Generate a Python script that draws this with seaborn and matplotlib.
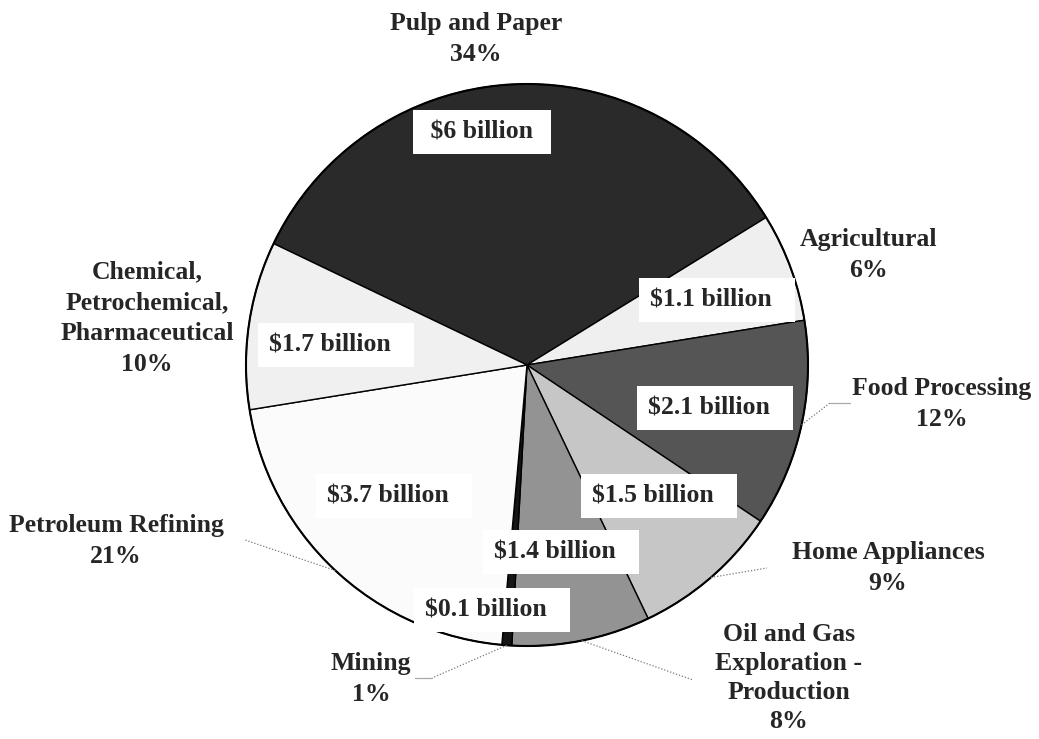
import numpy as np
import matplotlib.pyplot as plt
import seaborn as sns

sns.set_style('white')
plt.rcParams['font.family'] = ['Liberation Serif', 'DejaVu Serif']
plt.rcParams['font.weight'] = 'bold'

# data
sectors = ['Pulp and Paper', 'Agricultural', 'Food Processing', 'Home Appliances',
           'Oil and Gas\nExploration -\nProduction', 'Mining', 'Petroleum Refining',
           'Chemical,\nPetrochemical,\nPharmaceutical']
billions = [6, 1.1, 2.1, 1.5, 1.4, 0.1, 3.7, 1.7]
value_labels = ['$6 billion', '$1.1 billion', '$2.1 billion', '$1.5 billion',
                '$1.4 billion', '$0.1 billion', '$3.7 billion', '$1.7 billion']
colors = ['#2a2a2a', '#efefef', '#555555', '#c6c6c6', '#939393', '#151515', '#fbfbfb', '#f0f0f0']

W, H = 1039, 739
cx, cy, R = 527, 365, 281


def px(x, y):
    # pixel position -> data units of the pie (radius 1)
    return (x - cx) / R, (cy - y) / R


# label placement (pixel centers)
outer_pos = [(476, 39), (868, 255), (942, 404), (888, 568), (789, 678), (371, 679), (116, 541), (147, 318)]
outer_spacing = [1.45, 1.45, 1.4, 1.4, 1.33, 1.4, 1.4, 1.45]
inner_pos = [(482, 132), (717, 300), (715, 408), (659, 496), (561, 552), (492, 610), (394, 496), (336, 345)]
# leader lines: slice index -> (end point, optional tail point)
leaders = {2: ((830, 403), (850, 403)), 3: ((767, 568), None), 4: ((693, 680), None),
           5: ((432, 678), (415, 678)), 6: ((245, 540), None)}

fig = plt.figure(figsize=(W / 100, H / 100), dpi=100)
ax = fig.add_axes([0, 0, 1, 1])

total = sum(billions)
pct = [round(v / total * 100) for v in billions]

wedges, _ = ax.pie(billions, colors=colors, startangle=154.4, counterclock=False,
                   radius=1, wedgeprops=dict(edgecolor='black', linewidth=1.0))
outline = plt.Circle((0, 0), 1, fill=False, edgecolor='black', linewidth=1.5)
ax.add_patch(outline)

for i, w in enumerate(wedges):
    x, y = px(*outer_pos[i])
    ax.text(x, y, f'{sectors[i]}\n{pct[i]}%', ha='center', va='center', fontsize=18.5,
            fontweight='bold', linespacing=outer_spacing[i], multialignment='center')
    x, y = px(*inner_pos[i])
    # boxes carry extra room on the right, except the top one which is centred
    s = ' ' + value_labels[i] + ' ' if i == 0 else value_labels[i] + '\u2002'
    ax.text(x, y, s, ha='center', va='center', fontsize=18.5, fontweight='bold',
            bbox=dict(boxstyle='square,pad=0.42', facecolor='white', edgecolor='none'))

for i, (end, tail) in leaders.items():
    w = wedges[i]
    mid = np.deg2rad((w.theta1 + w.theta2) / 2)
    sx, sy = np.cos(mid), np.sin(mid)
    ex, ey = px(*end)
    ax.plot([sx, ex], [sy, ey], color='#777777', lw=0.9, linestyle=(0, (1, 1.5)))
    if tail is not None:
        tx, ty = px(*tail)
        ax.plot([ex, tx], [ey, ty], color='#aaaaaa', lw=0.9)

ax.set_xlim(-cx / R, (W - cx) / R)
ax.set_ylim(-(H - cy) / R, cy / R)
ax.set_aspect('auto')
ax.axis('off')

plt.savefig('out.png', dpi=100)
